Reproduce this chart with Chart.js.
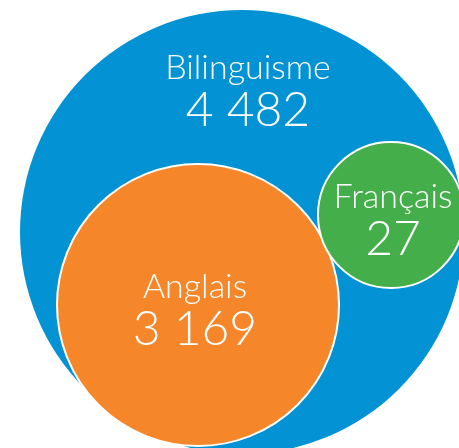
<!DOCTYPE html>
<html>
<head>
<meta charset="utf-8">
<script src="https://cdn.jsdelivr.net/npm/chart.js"></script>
<style>
  html, body { margin: 0; padding: 0; background: #fff; }
  #wrap { width: 459px; height: 448px; position: relative; }
</style>
</head>
<body>
<div id="wrap"><canvas id="chart"></canvas></div>
<script>
// ── Data ─────────────────────────────────────
const categories = ['Bilinguisme', 'Anglais', 'Français'];
const values     = [4482, 3169, 27];
const colors     = ['#0392d4', '#f5872a', '#44ae4a'];

// ── Layout (circle centres / radii, label anchors) ──
const circleX  = [242, 198, 391];
const circleY  = [232, 305, 215];
const circleR  = [222, 141, 73];
const labelY   = [79, 298, 208];   // baseline of the category line
const labelDX  = [6, -3, 2];

const fmt = v => v.toLocaleString('fr-FR').replace(/\s/g, ' ');

// ── Labels plugin ────────────────────────────
const bubbleLabels = {
  id: 'bubbleLabels',
  afterDatasetsDraw(chart) {
    const { ctx, scales: { x, y } } = chart;
    ctx.save();
    ctx.fillStyle = '#fff';
    ctx.textAlign = 'center';
    ctx.textBaseline = 'alphabetic';
    categories.forEach((name, i) => {
      const px = x.getPixelForValue(circleX[i] + labelDX[i]);
      const py = y.getPixelForValue(labelY[i]);
      ctx.font = '300 34px Lato';
      ctx.fillText(name, px, py);
      ctx.font = '300 48px Lato';
      ctx.fillText(fmt(values[i]), px, py + 47);
    });
    ctx.restore();
  }
};

new Chart(document.getElementById('chart'), {
  type: 'bubble',
  data: {
    datasets: [{
      label: 'Langue',
      data: categories.map((c, i) => ({ x: circleX[i], y: circleY[i], r: circleR[i] })),
      backgroundColor: colors,
      borderColor: '#ffffff',
      borderWidth: [0, 2, 2],
      clip: false
    }]
  },
  options: {
    animation: false,
    maintainAspectRatio: false,
    layout: { padding: 0, autoPadding: false },
    plugins: {
      legend: { display: false },
      tooltip: { enabled: false }
    },
    scales: {
      x: { min: 0, max: 459, display: false },
      y: { min: 0, max: 448, reverse: true, display: false }
    }
  },
  plugins: [bubbleLabels]
});
</script>
</body>
</html>
